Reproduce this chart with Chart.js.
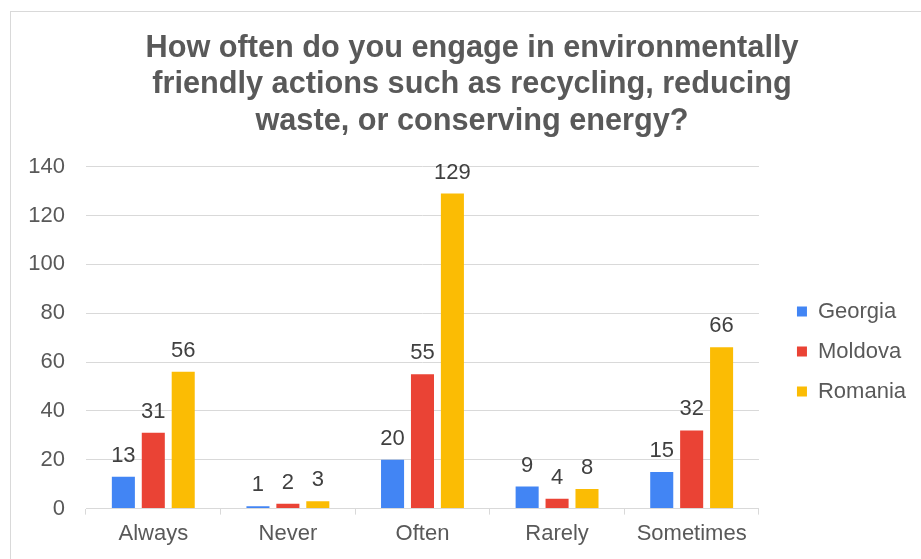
<!DOCTYPE html>
<html>
<head>
<meta charset="utf-8">
<script src="https://cdn.jsdelivr.net/npm/chart.js@4.4.1/dist/chart.umd.min.js"></script>
<style>
  html, body { margin:0; padding:0; background:#fff; overflow:hidden; }
  #frame { position:absolute; left:10px; top:11px; width:940px; height:600px; border:1px solid #d9d9d9; }
  #wrap { position:absolute; left:0; top:0; width:921px; height:559px; }
</style>
</head>
<body>
<div id="frame"></div>
<div id="wrap"><canvas id="chart1" width="921" height="559"></canvas></div>
<script>
// ── DATA ──────────────────────────────────────────────────
const CATEGORIES = ['Always', 'Never', 'Often', 'Rarely', 'Sometimes'];
const GEORGIA    = [13, 1, 20, 9, 15];
const MOLDOVA    = [31, 2, 55, 4, 32];
const ROMANIA    = [56, 3, 129, 8, 66];
const Y_TICKS    = [0, 20, 40, 60, 80, 100, 120, 140];

const TITLE_LINES = [
  'How often do you engage in environmentally',
  'friendly actions such as recycling, reducing',
  'waste, or conserving energy?',
];

const FONT  = "'Liberation Sans', Arial, sans-serif";
const GREY  = '#595959';
const GRID  = '#d9d9d9';

// value labels above every bar
const barValues = {
  id: 'barValues',
  afterDatasetsDraw(chart) {
    const { ctx } = chart;
    ctx.save();
    ctx.font = `22px ${FONT}`;
    ctx.fillStyle = '#404040';
    ctx.textAlign = 'center';
    ctx.textBaseline = 'middle';
    chart.data.datasets.forEach((ds, i) => {
      chart.getDatasetMeta(i).data.forEach((bar, j) => {
        ctx.fillText(String(ds.data[j]), bar.x, bar.y - 21);
      });
    });
    ctx.restore();
  }
};

new Chart(document.getElementById('chart1').getContext('2d'), {
  type: 'bar',
  data: {
    labels: CATEGORIES,
    datasets: [
      { label:'Georgia', data:GEORGIA, backgroundColor:'#4285f4' },
      { label:'Moldova', data:MOLDOVA, backgroundColor:'#ea4335' },
      { label:'Romania', data:ROMANIA, backgroundColor:'#fbbc04' },
    ]
  },
  options: {
    responsive: false,
    animation: false,
    devicePixelRatio: 1,
    categoryPercentage: 0.667,
    barPercentage: 0.77,
    layout: { padding: { left: 28, right: 5, top: 0, bottom: 6 } },
    plugins: {
      title: {
        display: true,
        text: TITLE_LINES,
        color: GREY,
        font: { family: FONT, size: 30.7, weight: 'bold', lineHeight: 1.19 },
        padding: { top: 30, bottom: 27 },
      },
      legend: {
        position: 'right',
        fullSize: false,
        // empty title just pushes the items down a bit
        title: { display: true, text: '', font: { size: 10 }, padding: { top: 8, bottom: 8 } },
        labels: {
          color: GREY,
          font: { family: FONT, size: 22 },
          boxWidth: 10, boxHeight: 10, padding: 18,
        }
      },
      tooltip: { enabled: false },
    },
    scales: {
      x: {
        grid: { drawOnChartArea: false, color: GRID, tickLength: 6, offset: true },
        border: { color: GRID },
        ticks: { color: GREY, font: { family: FONT, size: 22 }, padding: 6 },
      },
      y: {
        min: 0, max: 140,
        afterBuildTicks: axis => { axis.ticks = Y_TICKS.map(v => ({ value: v })); },
        afterFit: s => { s.width = 58; },
        grid: { color: GRID, drawTicks: false },
        border: { display: false },
        ticks: { color: GREY, font: { family: FONT, size: 22 }, padding: 21 },
      },
      // blank strip between plot and legend
      gap: {
        type: 'linear', position: 'right', display: true,
        grid: { display: false }, border: { display: false }, ticks: { display: false },
        afterFit: s => { s.width = 20; },
      }
    }
  },
  plugins: [barValues]
});
</script>
</body>
</html>
